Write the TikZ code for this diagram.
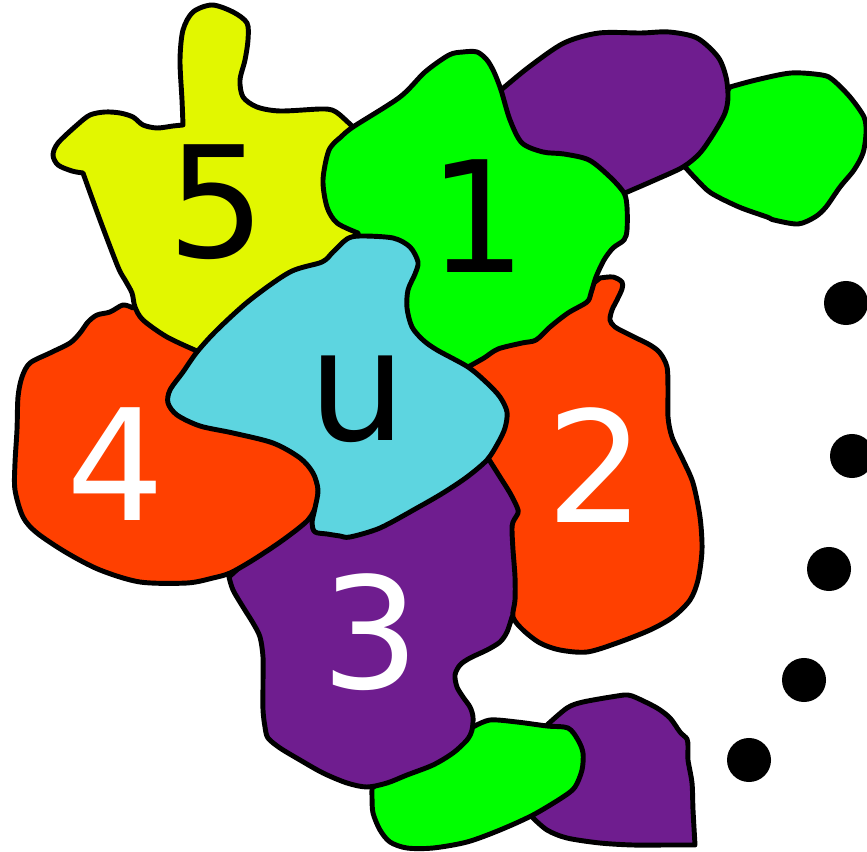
\documentclass[tikz,border=0pt]{standalone}
\usepackage{fontspec}
\setmainfont{DejaVu Sans}
\definecolor{cyellow}{RGB}{226,247,0}
\definecolor{cgreen}{RGB}{0,255,0}
\definecolor{cpurple}{RGB}{111,29,143}
\definecolor{corange}{RGB}{255,64,0}
\definecolor{ccyan}{RGB}{93,213,224}
\tikzset{
  region/.style={draw=black, line width=1.4pt, line join=round},
  lab/.style={anchor=base, inner sep=0pt, font=\fontsize{44}{44}\selectfont},
  dotmark/.style={fill=black}
}
\begin{document}
\begin{tikzpicture}[x=0.01cm,y=-0.01cm]
\useasboundingbox (0,0) rectangle (867,852);

% purple bottom
\filldraw[region, fill=cpurple]
  plot[smooth] coordinates {(547,725)(567,708)(583,702)(617,696)(628,695)(637,698)(657,708)(670,718)(680,732)(687,739)(688,747)(688,760)(692,783)(693,810)(695,845)}
  -- plot[smooth] coordinates {(695,845)(667,845)(633,845)(600,843)(567,838)(547,830)(532,817)}
  -- (560,770) -- cycle;

% green bottom
\filldraw[region, fill=cgreen]
  plot[smooth] coordinates {(473,727)(490,720)(517,722)(547,726)(568,728)(578,740)(583,753)(582,770)(575,787)(563,797)(533,815)(500,830)(467,842)(433,848)(407,848)(390,842)(380,830)(373,813)(372,797)(372,788)}
  -- (420,755) -- (455,735) -- cycle;

% purple 3
\filldraw[region, fill=cpurple]
  plot[smooth] coordinates {(512,617)(507,632)(500,642)(487,650)(470,658)(460,665)(455,675)(457,687)(463,697)(470,707)(473,717)(472,730)(467,740)(453,753)(433,765)(407,775)(387,783)(367,787)(347,783)(323,773)(300,760)(280,748)(268,738)(265,727)(263,710)(263,683)(263,657)(260,637)(253,623)(243,607)(233,590)(229,577)}
  -- (252,556) -- (290,525) -- (340,500) -- (420,490) -- (470,468) -- (488,458) -- (520,480) -- (535,540) -- (530,600) -- cycle;

% orange 2
\filldraw[region, fill=corange]
  plot[smooth] coordinates {(600,278)(613,277)(622,282)(622,289)(617,300)(612,310)(610,320)(615,327)(630,335)(650,345)(660,353)(667,367)(668,390)(668,417)(672,437)(683,460)(693,483)(700,517)(702,550)(698,580)(690,600)(673,617)(650,630)(617,643)(587,652)(560,650)(540,643)(523,630)(513,617)(515,600)(515,577)(513,550)(512,530)(513,522)(518,513)(517,507)(510,493)(500,477)(488,458)}
  -- (478,420) -- (470,380) -- (465,360) -- (500,335) -- (560,305) -- (585,290) -- cycle;

% orange 4
\filldraw[region, fill=corange]
  plot[smooth] coordinates {(133,308)(123,305)(110,312)(97,315)(88,322)(80,333)(70,343)(50,353)(30,363)(22,377)(18,397)(17,430)(15,463)(15,490)(23,517)(37,533)(67,553)(100,570)(140,582)(187,583)(213,578)(230,573)(253,560)(283,540)(308,520)(317,503)(318,487)}
  -- (300,420) -- (250,360) -- (200,300) -- (145,300) -- cycle;

% yellow 5
\filldraw[region, fill=cyellow]
  plot[smooth] coordinates {(197,351)(167,337)(143,320)(135,307)(132,293)(125,280)(118,267)(100,220)(83,173)}
  -- plot[smooth] coordinates {(83,173)(72,171)(58,165)(53,155)(58,143)(77,125)(90,115)(105,112)(120,113)(133,117)(143,125)(157,128)(173,126)(183,125)}
  -- plot[smooth] coordinates {(183,125)(182,100)(180,60)(183,30)(193,12)(212,5)(233,12)(247,23)(248,40)(245,60)(240,80)(243,97)(257,107)(280,111)(320,109)(332,110)(340,115)(353,127)}
  -- (380,170) -- (370,260) -- (300,290) -- (230,340) -- cycle;

% green right
\filldraw[region, fill=cgreen]
  plot[smooth] coordinates {(730,87)(756,80)(791,73)(822,75)(833,80)(850,97)(864,117)(866,133)(863,153)(854,170)(840,187)(826,207)(815,217)(798,224)(774,220)(767,217)(739,207)(711,193)(697,180)(685,167)}
  -- (705,125) -- cycle;

% purple top
\filldraw[region, fill=cpurple]
  plot[smooth] coordinates {(501,90)(529,67)(564,43)(599,33)(641,33)(669,32)(697,38)(718,57)(726,77)(728,97)(725,113)(714,133)(700,153)(683,167)(655,180)(625,193)}
  -- (590,185) -- (530,160) -- (500,120) -- cycle;

% green 1
\filldraw[region, fill=cgreen]
  plot[smooth] coordinates {(341,137)(353,127)(400,97)(425,72)(449,55)(463,52)(477,52)(487,60)(494,72)(501,90)(510,120)(522,143)(543,152)(564,154)(589,160)(610,177)(624,193)(627,207)(627,230)(624,240)(613,248)(604,260)(596,277)(591,293)(587,302)(568,313)(550,327)(536,340)(522,343)(498,349)(484,358)(468,367)}
  -- (420,365) -- (370,300) -- plot[smooth] coordinates {(358,233)(337,223)(327,207)(323,180)(329,150)(341,137)} -- cycle;

% cyan u
\filldraw[region, fill=ccyan]
  plot[smooth cycle] coordinates {(197,352)(217,330)(250,300)(290,272)(322,262)(333,252)(347,239)(360,236)(393,238)(410,247)(418,262)(415,274)(408,290)(407,308)(412,327)(423,340)(437,350)(468,367)(487,383)(500,397)(507,412)(505,428)(498,443)(487,460)(467,477)(443,493)(417,508)(380,528)(350,537)(340,536)(327,534)(315,532)(312,523)(315,508)(318,490)(313,473)(300,458)(273,443)(233,433)(200,426)(177,415)(168,403)(170,390)(183,372)};

% labels
\node[lab, text=black] (l5) at (217,258) {5};
\node[lab, text=black] (l1) at (478,273) {1};
\node[lab, text=black] (lu) at (358,440) {u};
\node[lab, text=white] (l4) at (116,520) {4};
\node[lab, text=white] (l2) at (596,522) {2};
\node[lab, text=white] (l3) at (371,688) {3};

% dots
\fill[dotmark] (846,303) circle[radius=0.22cm];
\fill[dotmark] (852,456) circle[radius=0.22cm];
\fill[dotmark] (829,569) circle[radius=0.22cm];
\fill[dotmark] (804,680) circle[radius=0.22cm];
\fill[dotmark] (749,760) circle[radius=0.22cm];
\end{tikzpicture}
\end{document}
